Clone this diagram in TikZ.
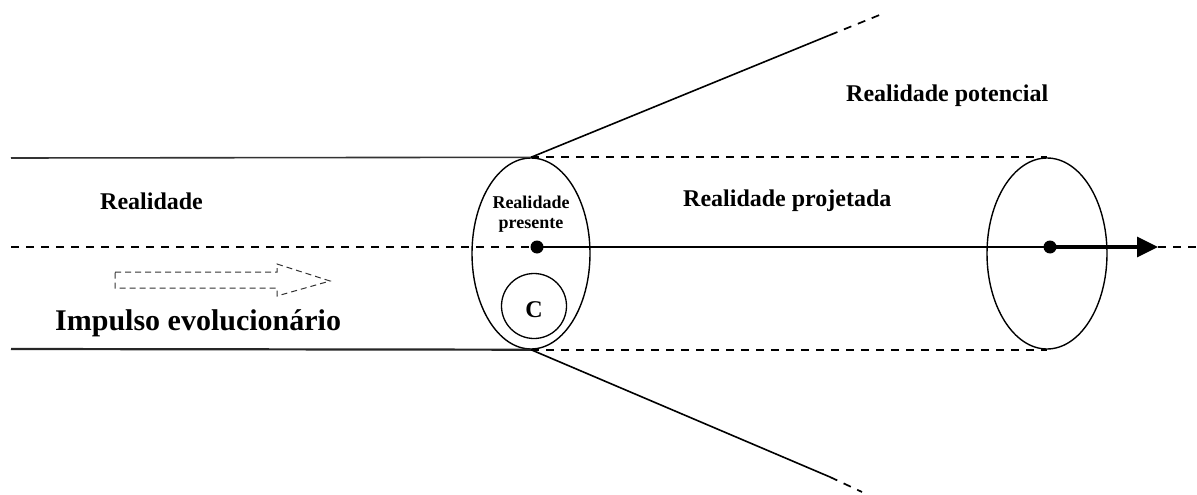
\documentclass[tikz,border=0pt]{standalone}
\usepackage{fontspec}
\setmainfont{Liberation Serif}
\usetikzlibrary{shapes.geometric,arrows.meta}
\begin{document}
\begin{tikzpicture}[x=1pt,y=-1pt,
  lbl/.style={font=\bfseries\fontsize{24}{26}\selectfont,inner sep=0pt,anchor=base west},
  ring/.style={draw,ellipse,line width=1.4pt,inner sep=0pt,minimum width=118pt,minimum height=191pt},
  dotnode/.style={circle,fill,inner sep=0pt,minimum size=13pt},
  dsh/.style={dash pattern=on 8pt off 7pt,line width=1.7pt},
  solid line/.style={line width=1.6pt}]
\useasboundingbox (0,0) rectangle (1197,495);
% ellipses
\node[ring] (E1) at (531,253.5) {};
\node[ring,minimum width=120pt] (E2) at (1047,253.5) {};
\node[dotnode] (D1) at (537,247) {};
\node[dotnode] (D2) at (1050,247) {};
\node[draw,circle,line width=1.3pt,minimum size=65pt,inner sep=0pt] (C) at (534,306) {};
\node[font=\bfseries\fontsize{24}{26}\selectfont,inner sep=0pt,anchor=base] (Ct) at (534,317) {C};
% coordinates
\coordinate (TL) at (11,158);
\coordinate (BL) at (11,349);
\coordinate (ML) at (11,247);
\coordinate (MR) at (1197,247);
\coordinate (Tip) at (1158,247);
\coordinate (UT) at (830,35);
\coordinate (UTend) at (882,14);
\coordinate (LT) at (830,477);
\coordinate (LTend) at (862,492);
% tube lines
\draw[solid line,black!80] (TL) -- (E1.north);
\draw[line width=2.2pt,black!85] (BL) -- (E1.south);
\draw[dsh] (E1.north) -- (E2.north);
\draw[dsh] (E1.south) -- (E2.south);
% center line
\draw[dsh] (ML) -- (D1.center);
\draw[line width=1.2pt] (D1.center) -- (D2.center);
\draw[line width=3.2pt,-{Triangle[length=21pt,width=20pt]}] (D2.center) -- (Tip);
\draw[dsh] (Tip) -- (MR);
% cone
\draw[solid line] (E1.north) -- (UT);
\draw[dsh] (UT) -- (UTend);
\draw[solid line] (E1.south) -- (LT);
\draw[dsh] (LT) -- (LTend);
% hollow dashed arrow
\draw[line width=1pt,dash pattern=on 6pt off 4pt,black!80]
  (115,272) -- (277,272) -- (277,264) -- (330,281) -- (277,296) -- (277,288) -- (115,288) -- cycle;
% labels
\node[lbl] (Rpot) at (846,102) {Realidade potencial};
\node[lbl] (Real) at (100,209) {Realidade};
\node[lbl] (Rproj) at (683,206) {Realidade projetada};
\node[lbl,font=\bfseries\fontsize{30}{32}\selectfont] (Imp) at (55,330) {Impulso evolucionário};
\node[font=\bfseries\fontsize{18}{20}\selectfont,inner sep=0pt,anchor=base] (Rpres) at (531,208) {Realidade};
\node[font=\bfseries\fontsize{18}{20}\selectfont,inner sep=0pt,anchor=base] (Rpres2) at (531,228) {presente};
\end{tikzpicture}
\end{document}
